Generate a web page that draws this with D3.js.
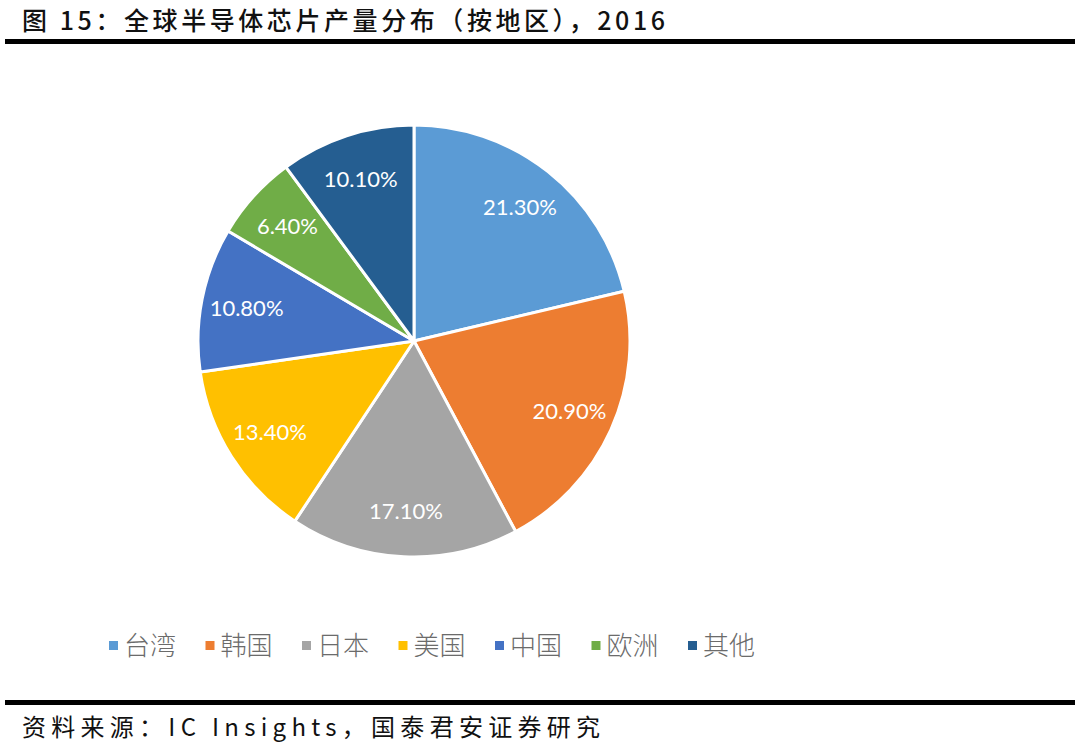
<!DOCTYPE html>
<html>
<head>
<meta charset="utf-8">
<script src="https://cdn.jsdelivr.net/npm/d3@7"></script>
<style>
  body { margin: 0; background: #fff; }
  svg { display: block; }
</style>
</head>
<body>
<svg id="chart" width="1080" height="747"></svg>
<script>
// data
var regions = ['台湾', '韩国', '日本', '美国', '中国', '欧洲', '其他'];
var shares = [21.3, 20.9, 17.1, 13.4, 10.8, 6.4, 10.1];
var colors = ['#5B9BD5', '#ED7D31', '#A5A5A5', '#FFC000', '#4472C4', '#70AD47', '#255E91'];
var titleText = '图 15：全球半导体芯片产量分布（按地区），2016';
var sourceText = '资料来源：IC Insights，国泰君安证券研究';

var data = regions.map(function (r, i) { return { name: r, value: shares[i] }; });

var svg = d3.select('#chart');

// title + rules
svg.append('text')
    .attr('x', 22)
    .attr('y', 30)
    .attr('textLength', 643)
    .attr('lengthAdjust', 'spacing')
    .style('font-family', '"Noto Sans CJK SC", sans-serif')
    .style('font-size', '25px')
    .style('font-weight', '500')
    .style('fill', '#111')
    .text(titleText);

svg.append('rect').attr('x', 5).attr('y', 39).attr('width', 1070).attr('height', 5).attr('fill', '#000');
svg.append('rect').attr('x', 5).attr('y', 700).attr('width', 1070).attr('height', 5).attr('fill', '#000');

svg.append('text')
    .attr('x', 22)
    .attr('y', 736)
    .attr('textLength', 578)
    .attr('lengthAdjust', 'spacing')
    .style('font-family', '"Noto Sans CJK SC", sans-serif')
    .style('font-size', '24px')
    .style('fill', '#111')
    .text(sourceText);

// pie
var cx = 414, cy = 341, radius = 216;
var color = d3.scaleOrdinal().domain(regions).range(colors);

var pie = d3.pie().value(function (d) { return d.value; }).sort(null);
var arc = d3.arc().innerRadius(0).outerRadius(radius);
var labelArc = d3.arc().innerRadius(radius * 0.79).outerRadius(radius * 0.79);

var g = svg.append('g').attr('transform', 'translate(' + cx + ',' + cy + ')');
var arcs = g.selectAll('g.slice')
    .data(pie(data))
    .enter()
    .append('g')
    .classed('slice', true);

arcs.append('path')
    .attr('d', arc)
    .attr('fill', function (d) { return color(d.data.name); })
    .attr('stroke', '#fff')
    .attr('stroke-width', 3)
    .attr('stroke-linejoin', 'round');

arcs.append('text')
    .attr('transform', function (d) { return 'translate(' + labelArc.centroid(d) + ')'; })
    .attr('text-anchor', 'middle')
    .attr('dy', '0.35em')
    .style('font-family', 'Lato, "Open Sans", sans-serif')
    .style('font-size', '22px')
    .style('fill', '#fff')
    .text(function (d) { return d.data.value.toFixed(2) + '%'; });

// legend
var legend = svg.append('g').attr('transform', 'translate(109,646)');
var items = legend.selectAll('g.item')
    .data(regions)
    .enter()
    .append('g')
    .classed('item', true)
    .attr('transform', function (d, i) { return 'translate(' + (i * 96.5) + ',0)'; });

items.append('rect')
    .attr('x', 0)
    .attr('y', -5)
    .attr('width', 9)
    .attr('height', 9)
    .attr('fill', function (d) { return color(d); });

items.append('text')
    .attr('x', 15)
    .attr('dy', '0.35em')
    .style('font-family', '"Noto Sans CJK SC", sans-serif')
    .style('font-size', '26px')
    .style('font-weight', '300')
    .style('fill', '#6b6b6b')
    .text(function (d) { return d; });
</script>
</body>
</html>
